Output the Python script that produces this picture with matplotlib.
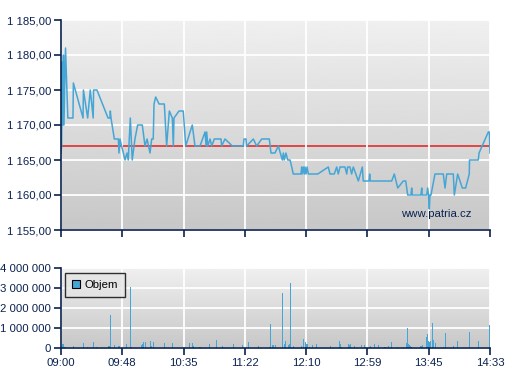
import matplotlib
matplotlib.use("Agg")
import matplotlib.pyplot as plt
import numpy as np

# cena - minuty od 09:00
price_t = [0, 0.5, 0.9, 1.4, 1.9, 2.3, 3.5, 5.3, 9.3, 9.6, 17.1, 17.4, 20.7, 22.7, 25.0, 25.3,
           27.9, 36.5, 38.0, 38.3, 38.8, 41.4, 44.5, 45.0, 45.8, 47.0, 48.4, 49.7, 51.2, 52.2,
           53.8, 55.3, 57.4, 59.5, 63.1, 65.2, 66.8, 69.1, 70.4, 71.6, 72.2, 73.5, 76.1, 80.2,
           82.0, 84.1, 86.4, 87.2, 87.7, 91.6, 94.9, 96.8, 101.9, 104.0, 107.9, 111.8, 112.6,
           113.1, 113.9, 115.7, 117.0, 119.0, 120.9, 124.2, 124.7, 127.3, 133.0, 141.5, 142.0,
           143.6, 144.1, 149.3, 151.9, 155.8, 161.7, 163.0, 166.1, 168.7, 171.8, 172.6, 173.3,
           174.6, 176.0, 177.8, 179.1, 180.3, 186.3, 186.8, 187.3, 188.1, 188.9, 189.4, 190.2,
           191.0, 192.0, 199.3, 207.5, 208.8, 212.1, 214.0, 215.2, 216.6, 220.4, 221.8, 222.5,
           224.3, 225.6, 226.9, 230.8, 233.9, 234.6, 239.1, 239.6, 240.1, 256.7, 258.7, 261.4,
           265.7, 267.6, 269.1, 271.7, 272.2, 272.7, 279.4, 280.0, 280.4, 283.9, 284.6, 285.3,
           285.9, 286.4, 287.2, 290.3, 296.7, 298.1, 299.4, 304.5, 305.3, 307.9, 311.5, 314.1,
           316.9, 317.1, 323.9, 324.5, 331.7, 332.5, 333.0]
price = [1166, 1167, 1179, 1170, 1180, 1170, 1181, 1171, 1171, 1176, 1171, 1175, 1171, 1175, 1171, 1175,
         1175, 1171, 1171, 1172, 1171, 1168, 1168, 1166, 1168, 1167, 1166, 1165, 1166, 1165,
         1171, 1165, 1168, 1170, 1170, 1167, 1168, 1166, 1168, 1168, 1173, 1174, 1173, 1173,
         1167, 1172, 1171, 1167, 1171, 1172, 1172, 1167, 1170, 1167, 1167, 1169, 1167,
         1169, 1167, 1168, 1167, 1168, 1168, 1168, 1167, 1168, 1167, 1167, 1168,
         1168, 1167, 1168, 1167, 1168, 1168, 1166, 1166, 1167, 1165, 1166, 1165,
         1166, 1165, 1165, 1164, 1163, 1163, 1164, 1163, 1164, 1163, 1164, 1163,
         1164, 1163, 1163, 1164, 1163, 1163, 1164, 1163, 1164, 1164, 1163, 1164,
         1164, 1163, 1164, 1162, 1164, 1162, 1162, 1163, 1162, 1162, 1163, 1161,
         1162, 1162, 1160, 1160, 1161, 1160, 1160, 1161, 1160, 1160, 1161, 1160,
         1158, 1160, 1160, 1163, 1163, 1161, 1163, 1163, 1160, 1163, 1161, 1161,
         1163, 1165, 1165, 1166, 1169, 1169, 1166]
prev_close = 1167

# objem
vol_t = [0.8, 1.6, 3.1, 9.5, 17.3, 20.4, 25.1, 27.7, 36.7, 37.5, 38.3, 41.4, 44.5, 45.3, 50.5,
         53.8, 54.9, 62.6, 63.4, 64.4, 65.4, 69.1, 70.6, 71.6, 80.0, 86.2, 86.9, 99.4, 101.9,
         103.2, 107.9, 115.1, 120.5, 125.2, 133.7, 140.7, 145.4, 153.1, 162.0, 162.5, 164.0,
         165.1, 166.3, 171.8, 173.3, 174.1, 176.4, 177.2, 178.0, 180.3, 186.8, 188.1, 189.6,
         190.7, 191.2, 192.7, 195.1, 198.3, 209.0, 215.9, 216.7, 218.0, 223.0, 223.9, 224.9,
         227.6, 232.9, 235.4, 236.1, 239.3, 240.4, 243.2, 246.3, 251.5, 254.1, 256.4, 261.0,
         266.2, 267.9, 268.8, 269.6, 270.3, 271.1, 272.1, 278.9, 279.7, 280.4, 283.5, 284.7,
         285.5, 286.3, 287.0, 288.1, 288.9, 290.5, 296.7, 298.3, 304.5, 307.6, 316.9, 323.9,
         332.4]
vol = [0.22, 0.22, 0.07, 0.12, 0.25, 0.05, 0.32, 0.05, 0.1, 0.1, 1.67, 0.15, 0.1, 0.08, 0.2,
       3.05, 0.05, 0.15, 0.2, 0.32, 0.32, 0.35, 0.1, 0.3, 0.25, 0.25, 0.1, 0.25, 0.25,
       0.1, 0.05, 0.18, 0.42, 0.08, 0.2, 0.14, 0.31, 0.08, 0.05, 1.21, 0.16,
       0.16, 0.14, 2.75, 0.2, 0.35, 0.15, 0.2, 3.26, 0.08, 0.09, 0.45, 0.3,
       0.18, 0.2, 0.05, 0.13, 0.2, 0.12, 0.35, 0.22, 0.05, 0.18, 0.15, 0.2,
       0.12, 0.15, 0.13, 0.05, 0.07, 0.08, 0.2, 0.13, 0.05, 0.1, 0.3, 0.05,
       0.05, 0.25, 1.0, 0.2, 0.15, 0.12, 0.06, 0.1, 0.12, 0.15, 0.55, 0.7,
       0.33, 0.3, 0.35, 1.25, 0.42, 0.25, 0.05, 0.75, 0.08, 0.35, 0.8, 0.35,
       1.15]
vol = [v * 1e6 for v in vol]

x_labels = ["09:00", "09:48", "10:35", "11:22", "12:10", "12:59", "13:45", "14:33"]
x_ticks = np.linspace(0, 333, len(x_labels))
price_ticks = [1155, 1160, 1165, 1170, 1175, 1180, 1185]
vol_ticks = [0, 1e6, 2e6, 3e6, 4e6]

navy = "#0b2250"
line_c = "#45a6d6"

plt.rcParams["font.family"] = ["Liberation Sans", "DejaVu Sans"]
fig = plt.figure(figsize=(5.07, 3.80), dpi=100)
ax1 = fig.add_axes([61/507, 1-230/380, 429/507, 210/380])
ax2 = fig.add_axes([61/507, 1-348/380, 429/507, 80/380])

grad = np.linspace(0.94, 0.78, 256).reshape(-1, 1)

def style(ax):
    ax.imshow(grad, extent=[0, 1, 0, 1], transform=ax.transAxes, aspect="auto",
              cmap="gray", vmin=0, vmax=1, zorder=0)
    ax.set_xlim(0, 333)
    ax.set_xticks(x_ticks)
    ax.grid(True, color="white", lw=1.3, zorder=1)
    ax.set_axisbelow(False)
    for s in ["top", "right"]:
        ax.spines[s].set_visible(False)
    for s in ["left", "bottom"]:
        ax.spines[s].set_color(navy)
        ax.spines[s].set_linewidth(1.2)
        ax.spines[s].set_zorder(4)
    ax.tick_params(colors=navy, labelcolor=navy, labelsize=8.2, length=5, width=1.2,
                   direction="out", pad=2)

style(ax1)
ax1.plot(price_t, price, color=line_c, lw=1.1, zorder=3)
ax1.axhline(prev_close, color="#e02020", lw=1.1, zorder=2)
ax1.set_ylim(1155, 1185)
ax1.set_yticks(price_ticks)
ax1.set_yticklabels(["1 {:03d},00".format(v - 1000) for v in price_ticks])
ax1.set_xticklabels([])
ax1.text(0.957, 0.075, "www.patria.cz", transform=ax1.transAxes, ha="right", va="center",
         color=navy, fontsize=8.2, zorder=5)

style(ax2)
ax2.bar(vol_t, vol, width=0.8, color=line_c, zorder=3, label="Objem")
ax2.set_ylim(0, 4e6)
ax2.set_yticks(vol_ticks)
ax2.set_yticklabels(["0", "1 000 000", "2 000 000", "3 000 000", "4 000 000"])
ax2.set_xticklabels(x_labels)
leg = ax2.legend(loc="upper left", bbox_to_anchor=(0.005, 0.96), frameon=True, fancybox=False,
                 fontsize=8.2, handlelength=0.7, handleheight=0.7, borderpad=0.6,
                 handletextpad=0.4, borderaxespad=0.2)
leg.get_frame().set_edgecolor("black")
leg.get_frame().set_facecolor("#e4e4e4")
leg.get_frame().set_linewidth(1)
leg.legend_handles[0].set_edgecolor("black")
leg.legend_handles[0].set_linewidth(0.8)
leg.set_zorder(6)

fig.savefig("out.png", dpi=100)
